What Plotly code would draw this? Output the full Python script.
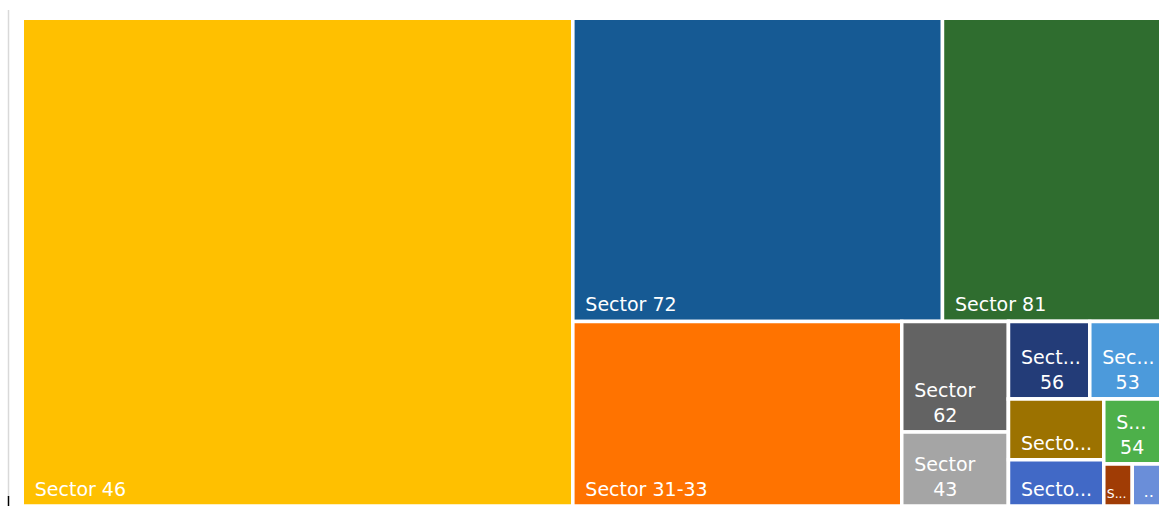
import plotly.graph_objects as go

# Sector shares (relative size of each tile)
sectors = ["Sector 46", "Sector 72", "Sector 81", "Sector 31-33", "Sector 62", "Sector 43",
           "Sector 56", "Sector 53", "Sector 48-49", "Sector 61", "Sector 54", "Sector 71", "Sector 51"]
values = [2686, 1121, 662, 607, 118, 79, 63, 55, 58, 44, 37, 12, 12]
EN = "\u2002"
TH = "\u2009"
display_text = [EN + "Sector 46", EN + "Sector 72", EN + "Sector 81", EN + "Sector 31-33",
                EN + "Sector<br>" + EN * 3 + "62", EN + "Sector<br>" + EN * 3 + "43",
                EN + "Sect...<br>" + EN * 3 + "56", EN + "Sec...<br>" + EN * 2 + TH + "53",
                EN + "Secto...", EN + "Secto...", EN + "S...<br>" + EN + TH + "54",
                "S...", EN + ".."]
colors = ["#FFC000", "#165A94", "#2F6D2F", "#FF7300", "#636363", "#A5A5A5",
          "#233C78", "#4C9ADB", "#9C7200", "#4169C6", "#4DB04A", "#A03C05", "#6A8ED9"]

# Layout grouping used by the slice-dice tiling (group id -> parent id)
groups = {
    "all": "",
    "rest": "all",
    "rest_top": "rest",
    "rest_bottom": "rest",
    "mid": "rest_bottom",
    "small": "rest_bottom",
    "small_top": "small",
    "small_bottom": "small",
    "col_a": "small_bottom",
    "col_b": "small_bottom",
    "tail": "col_b",
}
# Order of nodes in the hierarchy (groups and sectors interleaved so siblings keep their order)
node_order = ["all", "Sector 46", "rest", "rest_top", "Sector 72", "Sector 81",
              "rest_bottom", "Sector 31-33", "mid", "Sector 62", "Sector 43",
              "small", "small_top", "Sector 56", "Sector 53", "small_bottom",
              "col_a", "Sector 48-49", "Sector 61", "col_b", "Sector 54",
              "tail", "Sector 71", "Sector 51"]
sector_parent = {
    "Sector 46": "all", "Sector 72": "rest_top", "Sector 81": "rest_top",
    "Sector 31-33": "rest_bottom", "Sector 62": "mid", "Sector 43": "mid",
    "Sector 56": "small_top", "Sector 53": "small_top",
    "Sector 48-49": "col_a", "Sector 61": "col_a", "Sector 54": "col_b",
    "Sector 71": "tail", "Sector 51": "tail",
}

ids, parents, vals, texts, fills = [], [], [], [], []
for node in node_order:
    ids.append(node)
    if node in groups:
        parents.append(groups[node])
        vals.append(0)
        texts.append("")
        fills.append("#FFFFFF")
    else:
        i = sectors.index(node)
        parents.append(sector_parent[node])
        vals.append(values[i])
        # trailing subscript space lifts the label off the tile's bottom edge
        texts.append(display_text[i] + "<sub> </sub>")
        fills.append(colors[i])

W, H = 1167, 506
fig = go.Figure(go.Treemap(
    ids=ids,
    labels=ids,
    parents=parents,
    values=vals,
    branchvalues="remainder",
    sort=False,
    text=texts,
    textinfo="text",
    textposition="bottom left",
    textfont=dict(family="DejaVu Sans", size=19, color="#FFFFFF"),
    marker=dict(colors=fills, line=dict(color="#FFFFFF", width=3.5),
                pad=dict(t=0, l=0, r=0, b=0)),
    tiling=dict(packing="slice-dice", pad=0),
    pathbar=dict(visible=False),
    hoverinfo="skip",
    domain=dict(x=[22.25 / W, 1160.75 / W], y=[0, 1 - 18.25 / H]),
))

fig.update_layout(
    width=W, height=H,
    margin=dict(l=0, r=0, t=0, b=0),
    paper_bgcolor="#FFFFFF",
    shapes=[
        dict(type="line", xref="paper", yref="paper",
             x0=8.5 / W, x1=8.5 / W, y0=1 - 10 / H, y1=1 - 497 / H,
             line=dict(color="#D9D9D9", width=1.5)),
        dict(type="line", xref="paper", yref="paper",
             x0=8.5 / W, x1=8.5 / W, y0=1 - 496 / H, y1=0,
             line=dict(color="#000000", width=1.5)),
    ],
)

fig.write_html("out.html")
